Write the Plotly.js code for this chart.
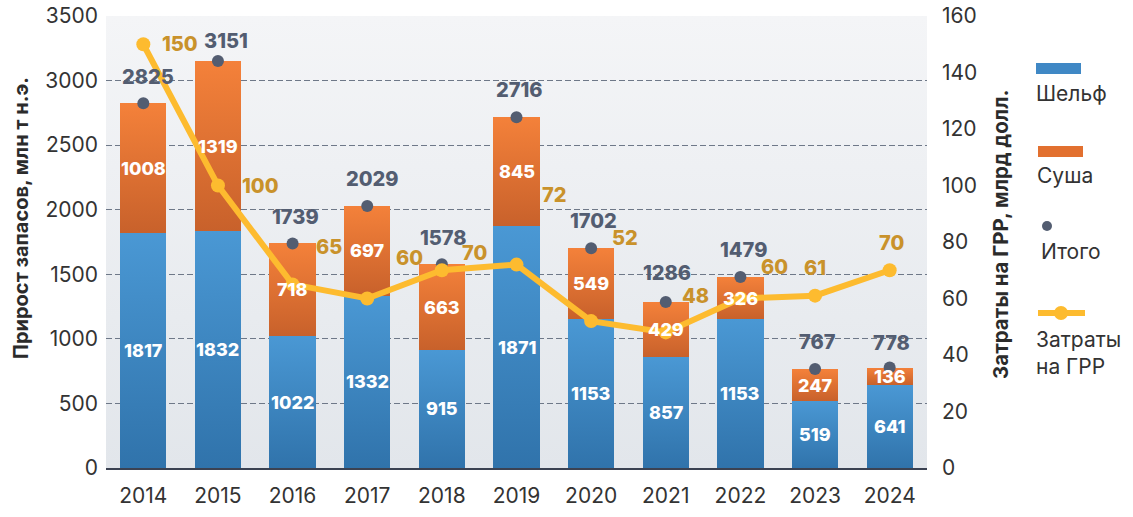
<!DOCTYPE html>
<html>
<head>
<meta charset="utf-8">
<script src="https://cdn.plot.ly/plotly-3.0.1.min.js"></script>
<style>
  html, body { margin: 0; padding: 0; background: #ffffff; }
  #chart { width: 1133px; height: 517px; }
</style>
</head>
<body>
<div id="chart"></div>
<script>
// ---- Data ----
const years = ['2014','2015','2016','2017','2018','2019','2020','2021','2022','2023','2024'];
const shelf = [1817, 1832, 1022, 1332, 915, 1871, 1153, 857, 1153, 519, 641];
const land  = [1008, 1319, 718, 697, 663, 845, 549, 429, 326, 247, 136];
const total = [2825, 3151, 1739, 2029, 1578, 2716, 1702, 1286, 1479, 767, 778];
const grr   = [150, 100, 65, 60, 70, 72, 52, 48, 60, 61, 70];

// ---- Label offsets (styling, px) ----
const totalShiftX = [5, 8, 3, 5, 2, 3, 2, 1, 3, 2, 2];
const totalShiftY = [26, 20, 26, 27, 26, 27, 27, 29, 27, 27, 25];
const grrShiftX = [37, 43, 36, 42, 33, 38, 34, 30, 34, 0, 2];
const grrShiftY = [0, 0, 37, 41, 17, 70, 83, 36, 32, 28, 27];

const FONT = 'Inter, "Open Sans", sans-serif';
const BLUE = '#3F88C5', ORANGE = '#E2702F', SLATE = '#535D71', GOLD = '#FDBB2F', GOLDTXT = '#C9922B';

const ml = 106, mr = 206, mt = 16, mb = 49, W = 1133, H = 517;
const pw = W - ml - mr, ph = H - mt - mb;
const px = v => (v - ml) / pw;
const py = v => (H - mb - v) / ph;

const data = [
  { type: 'bar', name: 'Шельф', x: years, y: shelf, marker: { color: BLUE }, width: 0.62, hoverinfo: 'skip' },
  { type: 'bar', name: 'Суша', x: years, y: land, marker: { color: ORANGE }, width: 0.62, hoverinfo: 'skip' },
  { type: 'scatter', mode: 'markers', name: 'Итого', x: years, y: total,
    marker: { color: SLATE, size: 12 }, hoverinfo: 'skip' },
  { type: 'scatter', mode: 'lines+markers', name: 'Затраты на ГРР', x: years, y: grr, yaxis: 'y2',
    line: { color: GOLD, width: 6 }, marker: { color: GOLD, size: 14 }, hoverinfo: 'skip' }
];

const annotations = [];
years.forEach((yr, i) => {
  // category axis: annotation x given as category index i (== position of years[i])
  annotations.push({ x: i, y: shelf[i] / 2, xref: 'x', yref: 'y', text: String(shelf[i]), showarrow: false,
    font: { family: FONT, size: 18, color: '#ffffff', weight: 800 } });
  annotations.push({ x: i, y: shelf[i] + land[i] / 2, xref: 'x', yref: 'y', text: String(land[i]), showarrow: false,
    font: { family: FONT, size: 18, color: '#ffffff', weight: 800 } });
  annotations.push({ x: i, y: total[i], xref: 'x', yref: 'y', text: String(total[i]), showarrow: false,
    xshift: totalShiftX[i], yshift: totalShiftY[i],
    font: { family: FONT, size: 20, color: SLATE, weight: 800 } });
  annotations.push({ x: i, y: grr[i], xref: 'x', yref: 'y2', text: String(grr[i]), showarrow: false,
    xshift: grrShiftX[i], yshift: grrShiftY[i],
    font: { family: FONT, size: 20, color: GOLDTXT, weight: 800 } });
});

// Axis titles
annotations.push({ xref: 'paper', yref: 'paper', x: px(21), y: py(218), text: 'Прирост запасов, млн т н.э.',
  textangle: -90, showarrow: false, xanchor: 'center', yanchor: 'middle',
  font: { family: FONT, size: 20, color: '#2B2B2B', weight: 700 } });
annotations.push({ xref: 'paper', yref: 'paper', x: px(1000), y: py(235), text: 'Затраты на ГРР, млрд долл.',
  textangle: -90, showarrow: false, xanchor: 'center', yanchor: 'middle',
  font: { family: FONT, size: 20.5, color: '#2B2B2B', weight: 700 } });

// Custom legend texts
const legFont = { family: FONT, size: 21, color: '#333333' };
annotations.push({ xref: 'paper', yref: 'paper', x: px(1034), y: py(93), text: 'Шельф', showarrow: false,
  xanchor: 'left', yanchor: 'middle', font: legFont });
annotations.push({ xref: 'paper', yref: 'paper', x: px(1035), y: py(175), text: 'Суша', showarrow: false,
  xanchor: 'left', yanchor: 'middle', font: legFont });
annotations.push({ xref: 'paper', yref: 'paper', x: px(1039), y: py(252), text: 'Итого', showarrow: false,
  xanchor: 'left', yanchor: 'middle', font: legFont });
annotations.push({ xref: 'paper', yref: 'paper', x: px(1034), y: py(353), text: 'Затраты<br>на ГРР', showarrow: false,
  xanchor: 'left', yanchor: 'middle', align: 'left', font: legFont });

const shapes = [
  { type: 'rect', xref: 'paper', yref: 'paper', x0: px(1036), x1: px(1081), y0: py(74), y1: py(63),
    fillcolor: BLUE, line: { width: 0 } },
  { type: 'rect', xref: 'paper', yref: 'paper', x0: px(1038), x1: px(1083), y0: py(157), y1: py(146),
    fillcolor: ORANGE, line: { width: 0 } },
  { type: 'circle', xref: 'paper', yref: 'paper', x0: px(1042), x1: px(1052), y0: py(231), y1: py(221),
    fillcolor: SLATE, line: { width: 0 } },
  { type: 'line', xref: 'paper', yref: 'paper', x0: px(1038), x1: px(1085), y0: py(313), y1: py(313),
    line: { color: GOLD, width: 6 } },
  { type: 'circle', xref: 'paper', yref: 'paper', x0: px(1054), x1: px(1068), y0: py(320), y1: py(306),
    fillcolor: GOLD, line: { width: 0 } }
];

const tickFont = { family: FONT, size: 21, color: '#333333' };
const layout = {
  width: W, height: H,
  margin: { l: ml, r: mr, t: mt, b: mb, pad: 0 },
  paper_bgcolor: '#ffffff',
  plot_bgcolor: '#EEF0F3',
  barmode: 'stack',
  showlegend: false,
  font: { family: FONT, size: 19, color: '#333333' },
  xaxis: {
    type: 'category', range: [-0.5, 10.5], showgrid: false, zeroline: false,
    showline: true, linecolor: '#3B4252', linewidth: 1.5, ticks: '',
    ticklabelstandoff: 8, tickfont: tickFont
  },
  yaxis: {
    range: [0, 3500], dtick: 500, tick0: 0, showgrid: true, gridcolor: '#6E7888', gridwidth: 1,
    griddash: '6px,3px', zeroline: false, showline: false, ticks: '',
    ticklabelstandoff: 7, tickfont: tickFont
  },
  yaxis2: {
    overlaying: 'y', side: 'right', range: [0, 160], dtick: 20, tick0: 0, showgrid: false,
    zeroline: false, showline: false, ticks: '', ticklabelstandoff: 14,
    tickfont: tickFont
  },
  annotations: annotations,
  shapes: shapes
};

Plotly.newPlot('chart', data, layout, { staticPlot: true, displayModeBar: false }).then(gd => {
  const ns = 'http://www.w3.org/2000/svg';
  const svg = gd.querySelector('svg.main-svg');
  let defs = svg.querySelector('defs');
  if (!defs) { defs = document.createElementNS(ns, 'defs'); svg.insertBefore(defs, svg.firstChild); }
  function grad(id, c0, c1) {
    const g = document.createElementNS(ns, 'linearGradient');
    g.setAttribute('id', id);
    g.setAttribute('x1', '0'); g.setAttribute('y1', '0'); g.setAttribute('x2', '0'); g.setAttribute('y2', '1');
    [[0, c0], [1, c1]].forEach(([o, c]) => {
      const s = document.createElementNS(ns, 'stop');
      s.setAttribute('offset', o); s.setAttribute('stop-color', c);
      g.appendChild(s);
    });
    defs.appendChild(g);
  }
  grad('gBlue', '#4A98D4', '#3073AB');
  grad('gOrange', '#F4813A', '#C8612B');
  grad('gBg', '#F4F5F7', '#E2E6EB');
  const bars = gd.querySelectorAll('.barlayer .trace');
  if (bars[0]) bars[0].querySelectorAll('path').forEach(p => p.style.fill = 'url(#gBlue)');
  if (bars[1]) bars[1].querySelectorAll('path').forEach(p => p.style.fill = 'url(#gOrange)');
  const bg = gd.querySelector('.bglayer .bg');
  if (bg) bg.style.fill = 'url(#gBg)';
});
</script>
</body>
</html>
